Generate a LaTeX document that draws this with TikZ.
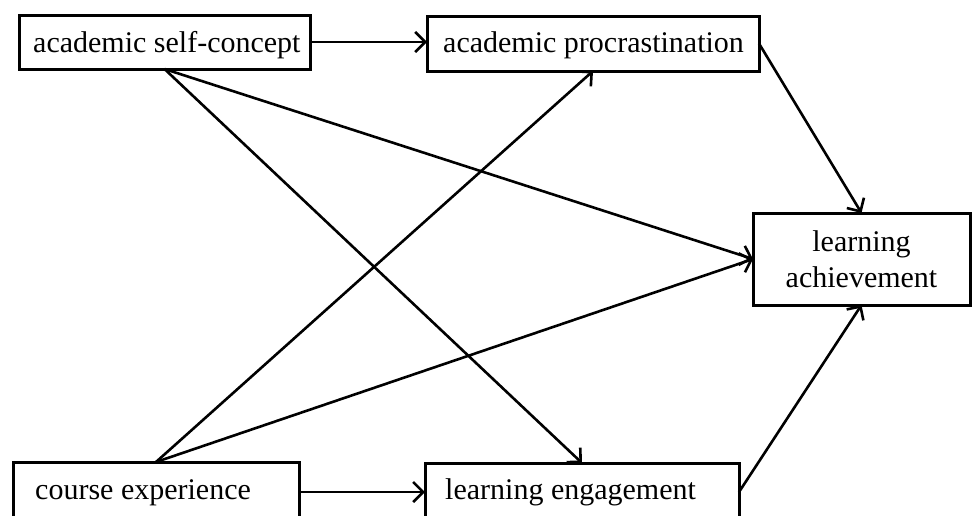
\documentclass[tikz,border=0pt]{standalone}
\usepackage{fontspec}
\setmainfont{Liberation Serif}
\usetikzlibrary{arrows.meta,calc}
\begin{document}
\begin{tikzpicture}[x=1pt,y=-1pt,
  box/.style={draw=black, line width=3pt, fill=white, inner sep=0pt, outer sep=0pt, anchor=north west},
  txt/.style={inner sep=0pt, font=\fontsize{30}{36}\selectfont},
  arr/.style={line width=2.6pt, -{Straight Barb[length=10pt,width=20pt,line width=2.6pt]}}]
\clip (0,0) rectangle (972,515);
\fill[white] (0,0) rectangle (972,515);
\node[box, minimum width=291pt, minimum height=54pt] (asc) at (19,15) {};
\node[box, minimum width=332pt, minimum height=55pt] (ap) at (427,16) {};
\node[box, minimum width=217pt, minimum height=92pt] (la) at (753,213) {};
\node[box, minimum width=286pt, minimum height=60pt] (ce) at (13,462) {};
\node[box, minimum width=314pt, minimum height=58pt] (le) at (425,463) {};
\node[txt, anchor=base west] (tasc) at (33,52) {academic self-concept};
\node[txt, anchor=base west] (tap) at (443,52) {academic procrastination};
\node[txt, align=center] (tla) at (la.center) {learning\\achievement};
\node[txt, anchor=base west] (tce) at (35,499) {course experience};
\node[txt, anchor=base west] (tle) at (445,499) {learning engagement};
\draw[arr] (asc.east) -- (asc.east -| ap.west);
\draw[arr] (ce.east) -- (ce.east -| le.west);
\draw[arr] (asc.south) -- (le.north);
\draw[arr] (asc.south) -- (la.west);
\draw[arr] (ce.north) -- (ap.south);
\draw[arr] (ce.north) -- (la.west);
\draw[arr] (ap.east) -- (la.north);
\draw[arr] (le.east) -- (la.south);
\end{tikzpicture}
\end{document}
